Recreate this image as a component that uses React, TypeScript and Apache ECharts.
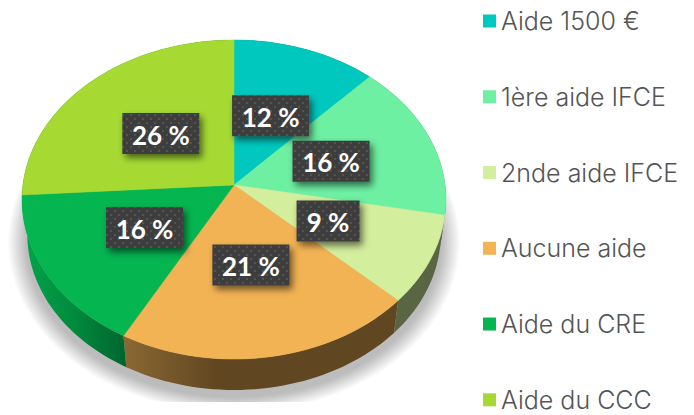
import React, { useEffect, useRef } from "react";
import * as echarts from "echarts";

const categories = ["Aide 1500 €", "1ère aide IFCE", "2nde aide IFCE", "Aucune aide", "Aide du CRE", "Aide du CCC"];
const shares = [12, 16, 9, 21, 16, 26];
const sliceColors = ["#00C8BE", "#6EF0A3", "#D3EE9C", "#F2B354", "#05B550", "#A6DA33"];

// Perspective of the disc
const CX = 234, CY = 185, A = 211.1, B = 158.2, P = 0.0909;
const WALL_SCALE = 0.975, WALL_DROP = 35.3;

function project(angle: number, frac = 1, scale = 1, drop = 0): number[] {
  const u = Math.sin(angle) * frac;
  const v = -Math.cos(angle) * frac;
  const d = 1 - P * v;
  return [CX + (scale * A * u) / d, CY + drop + (scale * B * v) / d];
}
const toAngle = (pct: number) => (pct / 100) * Math.PI * 2;

function arc(start: number, value: number, scale = 1, drop = 0): number[][] {
  const steps = Math.max(8, Math.round(value * 2));
  const pts: number[][] = [];
  for (let k = 0; k <= steps; k++) {
    pts.push(project(toAngle(start + (value * k) / steps), 1, scale, drop));
  }
  return pts;
}

function wallFill(i: number): any {
  const G = echarts.graphic.LinearGradient;
  if (i === 3) return new G(122, 0, 215, 0, [{ offset: 0, color: "#8C6934" }, { offset: 1, color: "#614721" }], true as any);
  if (i === 4) return new G(25, 0, 125, 0, [{ offset: 0, color: "#00A34A" }, { offset: 0.5, color: "#008A3D" }, { offset: 1, color: "#00662E" }], true as any);
  if (i === 2) return "#5A6543";
  if (i === 1) return "#5A6543";
  return "#006A30";
}

function dotTile(): HTMLCanvasElement {
  const c = document.createElement("canvas");
  c.width = 8;
  c.height = 8;
  const g = c.getContext("2d") as CanvasRenderingContext2D;
  g.fillStyle = "#3C3C3C";
  g.fillRect(0, 0, 8, 8);
  g.fillStyle = "#525252";
  g.fillRect(2, 2, 2, 2);
  g.fillRect(6, 6, 2, 2);
  return c;
}

function softShadow(): any[] {
  const layers = 14;
  const out: any[] = [];
  for (let k = 0; k < layers; k++) {
    const t = k / (layers - 1);
    const scale = 1.065 - 0.085 * t;
    out.push({
      type: "polygon",
      shape: { points: arc(0, 100, scale, 42) },
      style: { fill: "rgba(0,0,0,0.018)" },
    });
  }
  out.push({ type: "rect", shape: { x: 0, y: 402, width: 480, height: 13 }, style: { fill: "#FFFFFF" } });
  return out;
}

export default function App() {
  const ref = useRef<HTMLDivElement>(null);
  useEffect(() => {
    const chart = echarts.init(ref.current as HTMLDivElement, undefined, { renderer: "svg" });
    const tile = dotTile();
    let acc = 0;
    const rows = shares.map((v, i) => {
      const row = [acc, v, i];
      acc += v;
      return row;
    });

    const sliceSeries = categories.map((name, i) => ({
      type: "custom",
      name,
      coordinateSystem: "none",
      silent: true,
      z: 4,
      itemStyle: { color: sliceColors[i] },
      data: [rows[i]],
      renderItem: (_p: any, api: any) => {
        const s = api.value(0), v = api.value(1);
        return {
          type: "polygon",
          shape: { points: [[CX, CY], ...arc(s, v)] },
          style: { fill: sliceColors[i], stroke: sliceColors[i], lineWidth: 0.5 },
        };
      },
    }));

    const option: any = {
      animation: false,
      backgroundColor: "#fff",
      color: sliceColors,
      legend: {
        orient: "vertical",
        left: 483,
        top: 8.5,
        height: 600,
        padding: 0,
        itemWidth: 13,
        itemHeight: 13,
        itemGap: 50.76,
        icon: "rect",
        selectedMode: false,
        data: categories,
        textStyle: { fontFamily: "Inter", fontWeight: 300, fontSize: 25, color: "#555555" },
      },
      series: [
        {
          type: "custom",
          name: "ombre",
          coordinateSystem: "none",
          silent: true,
          z: 1,
          data: [[0]],
          renderItem: () => ({ type: "group", children: softShadow() }),
        },
        {
          type: "custom",
          name: "flancs",
          coordinateSystem: "none",
          silent: true,
          z: 2,
          data: rows,
          renderItem: (_p: any, api: any) => {
            const s = api.value(0), v = api.value(1), i = api.value(2);
            const top = arc(s, v);
            const low = arc(s, v, WALL_SCALE, WALL_DROP).reverse();
            return {
              type: "polygon",
              shape: { points: [...top, ...low] },
              style: { fill: wallFill(i) },
            };
          },
        },
        ...sliceSeries,
        {
          type: "custom",
          name: "etiquettes",
          coordinateSystem: "none",
          silent: true,
          z: 6,
          data: rows,
          renderItem: (_p: any, api: any) => {
            const s = api.value(0), v = api.value(1);
            const text = `${v} %`;
            const [x, y] = project(toAngle(s + v / 2), 0.49);
            const w = 21 + 14 * text.length;
            const h = 41;
            return {
              type: "group",
              children: [
                {
                  type: "rect",
                  shape: { x: x - w / 2, y: y - h / 2, width: w, height: h },
                  style: {
                    fill: { image: tile, repeat: "repeat" },
                    shadowBlur: 7,
                    shadowOffsetX: 3,
                    shadowOffsetY: 4,
                    shadowColor: "rgba(0,0,0,0.55)",
                  },
                },
                {
                  type: "text",
                  style: {
                    text,
                    x,
                    y: y + 1,
                    fill: "#FFFFFF",
                    font: "bold 26px Lato",
                    align: "center",
                    verticalAlign: "middle",
                  },
                },
              ],
            };
          },
        },
      ],
    };
    chart.setOption(option);
    return () => chart.dispose();
  }, []);
  return <div ref={ref} style={{ position: "absolute", left: 0, top: 0, width: 694, height: 415 }} />;
}
